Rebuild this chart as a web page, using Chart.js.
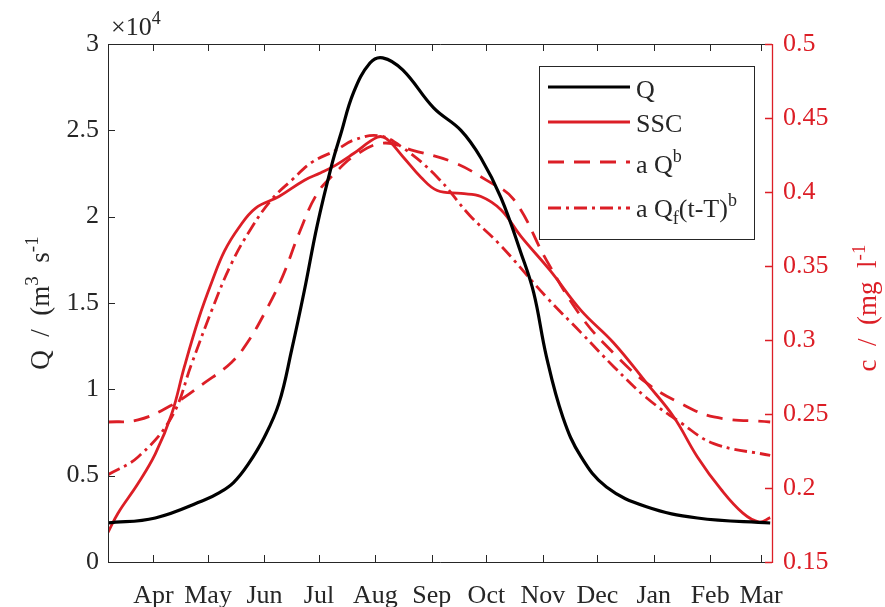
<!DOCTYPE html>
<html><head><meta charset="utf-8">
<script src="https://cdn.jsdelivr.net/npm/chart.js@4/dist/chart.umd.min.js"></script>
<style>html,body{margin:0;padding:0;background:#fff;} #wrap{width:885px;height:607px;position:relative;}</style>
</head><body><div id="wrap"><canvas id="c"></canvas></div>
<script>
// ---- data (x = days since 1 April) ----
const monthLabels = ['Apr','May','Jun','Jul','Aug','Sep','Oct','Nov','Dec','Jan','Feb','Mar'];
const monthTickDays = [0,30,61,91,122,153,183,214,244,275,306,334];
const qTicks = [0,5000,10000,15000,20000,25000,30000];
const cTicks = [0.15,0.2,0.25,0.3,0.35,0.4,0.45,0.5];

const qDays   = [-25, 1, 28, 36, 44, 52, 61, 69, 76, 83, 90, 98, 103, 110, 119, 126, 137, 154, 169, 180, 191, 202, 209, 216, 225, 235, 249, 271, 299, 339];
const qValues = [2260, 2550, 3590, 4000, 4600, 5650, 7240, 9200, 12300, 15750, 19500, 23000, 24800, 27200, 28900, 29200, 28500, 26300, 25000, 23400, 21100, 17900, 15600, 11900, 8400, 6100, 4340, 3200, 2550, 2260];

const sscDays   = [-25, -19.5, -8.5, 1, 10, 17, 25, 32, 39, 47, 56, 69, 83, 92, 100, 110, 123, 128, 137, 147, 156, 169, 180, 191, 202, 218, 235, 253, 271, 286, 299, 312, 324, 333, 339];
const sscValues = [0.170, 0.183, 0.203, 0.223, 0.250, 0.282, 0.315, 0.339, 0.360, 0.376, 0.389, 0.397, 0.408, 0.413, 0.418, 0.426, 0.437, 0.436, 0.424, 0.410, 0.401, 0.399, 0.397, 0.388, 0.370, 0.347, 0.320, 0.298, 0.271, 0.248, 0.221, 0.199, 0.183, 0.177, 0.180];

const aqbDays   = [-25, -8.5, 10, 28, 43, 52, 61, 71, 80, 90, 100, 110, 126, 143, 165, 183, 198, 216, 235, 253, 271, 290, 308, 339];
const aqbValues = [0.2446, 0.246, 0.256, 0.271, 0.285, 0.299, 0.318, 0.343, 0.372, 0.399, 0.413, 0.424, 0.433, 0.428, 0.420, 0.408, 0.395, 0.354, 0.316, 0.291, 0.271, 0.257, 0.248, 0.2446];

const aqfDays   = [-25, -8.5, 10, 21, 32, 43, 54, 65, 76, 87, 100, 110, 124, 137, 156, 174, 190, 216, 235, 253, 271, 290, 308, 339];
const aqfValues = [0.209, 0.221, 0.248, 0.284, 0.320, 0.352, 0.376, 0.395, 0.408, 0.420, 0.428, 0.435, 0.438, 0.430, 0.410, 0.384, 0.365, 0.329, 0.305, 0.282, 0.261, 0.244, 0.230, 0.222];

// ---- styling ----
const RED = 'rgb(220,30,38)';
const AX = '#262626';
const FONT = 'Liberation Serif';
const FS = 26;
const TFS = 27;
const DASH = [16, 10];
const DASHDOT = [13, 5, 3, 5];
const SP = '\u2002';

function pts(xs, ys){ return xs.map((x,i)=>({x, y: ys[i]})); }
function fmt(v){ return String(parseFloat(v.toFixed(4))); }

function drawRich(ctx, parts, x, y, size){
  let cx = x;
  for (const [t, m] of parts){
    const s = m === 'n' ? size : Math.round(size*0.7);
    ctx.font = s + 'px "' + FONT + '"';
    const dy = m === 'sup' ? -size*0.42 : (m === 'sub' ? size*0.28 : 0);
    ctx.fillText(t, cx, y + dy);
    cx += ctx.measureText(t).width;
  }
  return cx - x;
}
function richWidth(ctx, parts, size){
  let w = 0;
  for (const [t, m] of parts){
    const s = m === 'n' ? size : Math.round(size*0.7);
    ctx.font = s + 'px "' + FONT + '"';
    w += ctx.measureText(t).width;
  }
  return w;
}

const decor = {
  id: 'decor',
  afterDraw(chart){
    const ctx = chart.ctx;
    const a = chart.chartArea;
    const xs = chart.scales.x, yl = chart.scales.y, yr = chart.scales.y1;
    const TL = 7;
    ctx.save();
    ctx.lineWidth = 1;
    ctx.strokeStyle = AX;
    ctx.beginPath();
    ctx.moveTo(a.right, a.top + 0.5); ctx.lineTo(a.left + 0.5, a.top + 0.5);
    ctx.lineTo(a.left + 0.5, a.bottom + 0.5); ctx.lineTo(a.right, a.bottom + 0.5);
    ctx.stroke();
    ctx.beginPath();
    for (const d of monthTickDays){
      const px = Math.round(xs.getPixelForValue(d)) + 0.5;
      ctx.moveTo(px, a.bottom); ctx.lineTo(px, a.bottom - TL);
      ctx.moveTo(px, a.top); ctx.lineTo(px, a.top + TL);
    }
    for (const v of qTicks){
      const py = Math.round(yl.getPixelForValue(v)) + 0.5;
      ctx.moveTo(a.left, py); ctx.lineTo(a.left + TL, py);
    }
    ctx.stroke();
    ctx.strokeStyle = RED;
    ctx.lineWidth = 1.3;
    ctx.beginPath();
    ctx.moveTo(a.right + 0.5, a.top); ctx.lineTo(a.right + 0.5, a.bottom + 1);
    for (const v of cTicks){
      const py = Math.round(yr.getPixelForValue(v)) + 0.5;
      ctx.moveTo(a.right, py); ctx.lineTo(a.right - TL, py);
    }
    ctx.stroke();

    ctx.fillStyle = AX;
    ctx.textBaseline = 'alphabetic';
    ctx.textAlign = 'left';
    drawRich(ctx, [['\u00d710','n'],['4','sup']], a.left + 3, 35, FS);

    const lt = [['Q'+SP+'/'+SP+'(m','n'],['3','sup'],[SP+'s','n'],['-1','sup']];
    ctx.save();
    ctx.translate(49, (a.top + a.bottom)/2);
    ctx.rotate(-Math.PI/2);
    let w = richWidth(ctx, lt, TFS);
    drawRich(ctx, lt, -w/2, 0, TFS);
    ctx.restore();

    const rt = [['c'+SP+'/'+SP+'(mg'+SP+'l','n'],['-1','sup']];
    ctx.save();
    ctx.fillStyle = RED;
    ctx.translate(876, (a.top + a.bottom)/2 + 5);
    ctx.rotate(-Math.PI/2);
    w = richWidth(ctx, rt, TFS);
    drawRich(ctx, rt, -w/2, 0, TFS);
    ctx.restore();

    const bx = 539.5, by = 66.5, bw = 215, bh = 173;
    ctx.fillStyle = '#fff';
    ctx.fillRect(bx, by, bw, bh);
    ctx.strokeStyle = AX; ctx.lineWidth = 1;
    ctx.strokeRect(bx, by, bw, bh);
    const rows = [
      {ly: 87, ty: 98, color: '#000', width: 3.2, dash: [], parts: [['Q','n']]},
      {ly: 122, ty: 132, color: RED, width: 2.8, dash: [], parts: [['SSC','n']]},
      {ly: 162, ty: 173, color: RED, width: 2.8, dash: DASH, parts: [['a Q','n'],['b','sup']]},
      {ly: 208, ty: 217, color: RED, width: 2.8, dash: DASHDOT, parts: [['a Q','n'],['f','sub'],['(t-T)','n'],['b','sup']]}
    ];
    for (const r of rows){
      ctx.strokeStyle = r.color; ctx.lineWidth = r.width; ctx.setLineDash(r.dash);
      ctx.beginPath(); ctx.moveTo(548, r.ly); ctx.lineTo(630, r.ly); ctx.stroke();
      ctx.setLineDash([]);
      ctx.fillStyle = AX;
      drawRich(ctx, r.parts, 636, r.ty, FS);
    }
    ctx.restore();
  }
};

new Chart(document.getElementById('c'), {
  type: 'line',
  data: {
    datasets: [
      {label:'Q', data: pts(qDays, qValues), yAxisID:'y', borderColor:'#000', borderWidth:3.2, pointRadius:0, tension:0.4, fill:false},
      {label:'SSC', data: pts(sscDays, sscValues), yAxisID:'y1', borderColor:RED, borderWidth:2.8, pointRadius:0, tension:0.4, fill:false},
      {label:'a Q^b', data: pts(aqbDays, aqbValues), yAxisID:'y1', borderColor:RED, borderWidth:2.8, borderDash:DASH, pointRadius:0, tension:0.4, fill:false},
      {label:'a Qf(t-T)^b', data: pts(aqfDays, aqfValues), yAxisID:'y1', borderColor:RED, borderWidth:2.8, borderDash:DASHDOT, pointRadius:0, tension:0.4, fill:false}
    ]
  },
  options: {
    responsive: true, maintainAspectRatio: false, animation: false,
    layout: {padding: {top: 44, left: 0, right: 0, bottom: 0}},
    plugins: {legend: {display:false}, tooltip: {enabled:false}},
    scales: {
      x: {
        type:'linear', min:-25, max:340,
        grid:{display:false, drawTicks:false}, border:{display:false},
        afterBuildTicks: s => { s.ticks = monthTickDays.map(v=>({value:v})); },
        afterFit: s => { s.height = 45; },
        ticks: {padding: 19, color: AX, font:{family:FONT, size:FS}, maxRotation:0, autoSkip:false,
          callback: v => { const i = monthTickDays.indexOf(v); return i >= 0 ? monthLabels[i] : ''; }}
      },
      y: {
        position:'left', min:0, max:30000,
        grid:{display:false, drawTicks:false}, border:{display:false},
        afterBuildTicks: s => { s.ticks = qTicks.map(v=>({value:v})); },
        afterFit: s => { s.width = 108; },
        ticks: {padding: 9, color: AX, font:{family:FONT, size:FS}, callback: v => fmt(v/10000)}
      },
      y1: {
        position:'right', min:0.15, max:0.5,
        grid:{display:false, drawTicks:false}, border:{display:false},
        afterBuildTicks: s => { s.ticks = cTicks.map(v=>({value:v})); },
        afterFit: s => { s.width = 113; },
        ticks: {padding: 11, color: RED, font:{family:FONT, size:FS}, callback: v => fmt(v)}
      }
    }
  },
  plugins: [decor]
});
</script></body></html>
